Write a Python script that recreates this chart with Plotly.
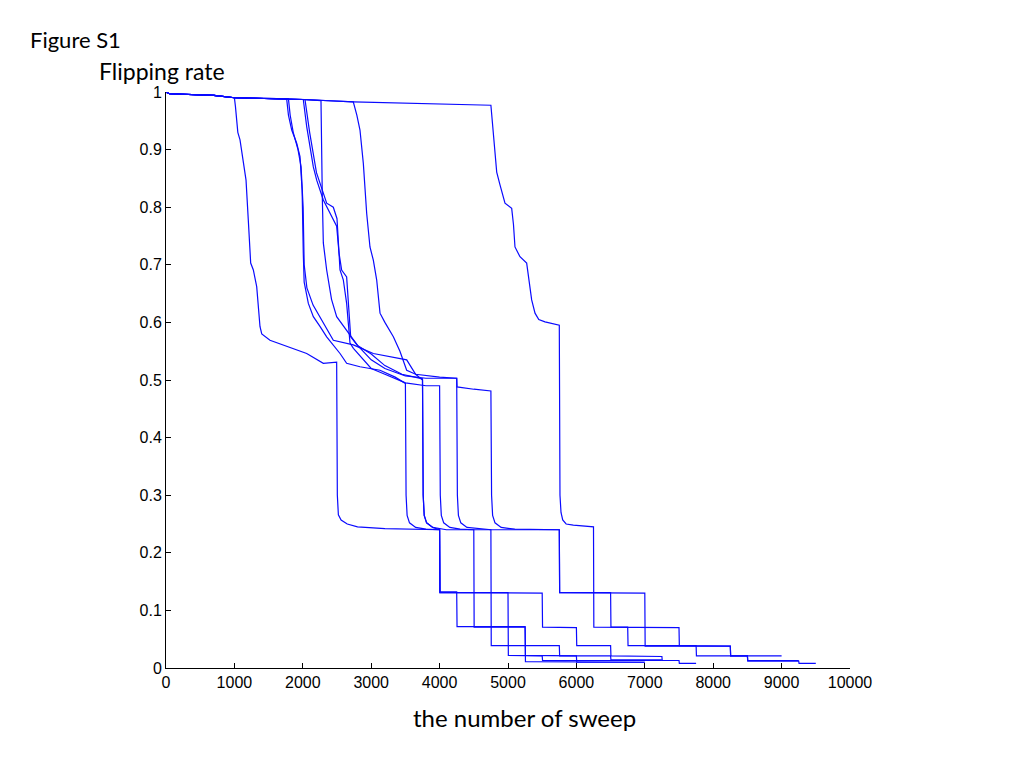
import plotly.graph_objects as go

# ---- data (x = sweep, y = flipping rate) ----
c1_x = [0, 50, 700, 1000, 1015, 1050, 1082, 1130, 1170, 1203, 1238, 1277, 1326, 1374, 1400, 1520, 1764, 2057, 2300, 2495,
        2505, 2520, 2560, 2650, 2800, 3200, 4000, 4005, 4250, 4255, 5250, 5255, 7000]
c1_y = [1.0, 0.997, 0.994, 0.99, 0.975, 0.93, 0.917, 0.88, 0.847, 0.778, 0.703, 0.691, 0.662, 0.593, 0.58, 0.569, 0.558, 0.546, 0.529, 0.531,
        0.30, 0.266, 0.257, 0.25, 0.245, 0.242, 0.24, 0.132, 0.132, 0.072, 0.072, 0.011, 0.010]

c2_x = [0, 50, 700, 1000, 1764, 1790, 1838, 1911, 1959, 1990, 2007, 2020, 2081, 2154, 2251, 2349, 2544, 2641, 2836, 3129, 3350, 3500,
        3510, 3525, 3560, 3650, 3800, 4000, 4005, 5000, 5005, 5500, 5505, 7250]
c2_y = [1.0, 0.997, 0.994, 0.99, 0.988, 0.96, 0.934, 0.911, 0.888, 0.83, 0.72, 0.67, 0.633, 0.61, 0.593, 0.575, 0.546, 0.529, 0.523, 0.517, 0.505, 0.494,
        0.30, 0.265, 0.252, 0.244, 0.241, 0.24, 0.131, 0.131, 0.022, 0.021, 0.013, 0.013]

c3_x = [0, 50, 700, 1000, 1790, 1815, 1860, 1930, 1975, 2005, 2020, 2060, 2150, 2300, 2446, 2738, 3031, 3519, 3650, 3750,
        3760, 3775, 3810, 3900, 4000, 4005, 5500, 5505, 6000, 6005, 6500, 6505, 7250, 7255, 7500, 7505, 7750]
c3_y = [1.0, 0.997, 0.994, 0.99, 0.988, 0.96, 0.93, 0.90, 0.87, 0.80, 0.70, 0.66, 0.63, 0.60, 0.569, 0.561, 0.546, 0.535, 0.51, 0.50,
        0.30, 0.265, 0.252, 0.244, 0.24, 0.131, 0.13, 0.071, 0.07, 0.039, 0.039, 0.021, 0.02, 0.013, 0.013, 0.008, 0.008]

c4_x = [0, 50, 700, 1000, 2007, 2030, 2057, 2154, 2203, 2300, 2446, 2495, 2530, 2568, 2641, 2680, 2700, 2800, 3000, 3200, 3450, 3750,
        3760, 3775, 3810, 3900, 4100, 5750, 5755, 7000, 7005, 8250, 8255, 8500, 8505, 9250, 9255, 9500]
c4_y = [1.0, 0.997, 0.994, 0.99, 0.987, 0.96, 0.94, 0.87, 0.847, 0.8125, 0.778, 0.767, 0.72, 0.691, 0.679, 0.62, 0.575, 0.56, 0.545, 0.525, 0.51, 0.502,
        0.30, 0.265, 0.252, 0.244, 0.24, 0.24, 0.131, 0.13, 0.038, 0.038, 0.021, 0.021, 0.012, 0.012, 0.008, 0.008]

c5_x = [0, 50, 700, 1000, 2032, 2060, 2100, 2200, 2349, 2446, 2500, 2544, 2592, 2641, 2690, 2740, 2850, 3000, 3200, 3500, 3800, 4000,
        4010, 4025, 4060, 4150, 4300, 4500, 4505, 5250, 5255, 6000, 6005, 7000]
c5_y = [1.0, 0.997, 0.994, 0.99, 0.987, 0.96, 0.93, 0.86, 0.807, 0.80, 0.78, 0.691, 0.674, 0.633, 0.564, 0.555, 0.54, 0.52, 0.51, 0.495, 0.49, 0.49,
        0.30, 0.265, 0.252, 0.244, 0.241, 0.24, 0.071, 0.071, 0.022, 0.021, 0.010, 0.010]

c6_x = [0, 50, 700, 1000, 2000, 2266, 2285, 2300, 2349, 2420, 2495, 2641, 2800, 3000, 3200, 3500, 3800, 4250,
        4260, 4275, 4310, 4400, 4600, 4750, 4755, 5750, 5755, 6500, 6505, 7250]
c6_y = [1.0, 0.997, 0.994, 0.99, 0.987, 0.985, 0.82, 0.738, 0.691, 0.64, 0.61, 0.587, 0.56, 0.535, 0.52, 0.507, 0.503, 0.503,
        0.30, 0.265, 0.252, 0.244, 0.241, 0.24, 0.039, 0.039, 0.021, 0.021, 0.014, 0.014]

c7_x = [0, 50, 700, 1000, 2000, 2738, 2790, 2836, 2885, 2934, 2982, 3031, 3080, 3129, 3200, 3324, 3420, 3470, 3519, 3650, 3800, 4000, 4250,
        4255, 4500, 4750, 4760, 4775, 4810, 4900, 5100, 5750, 5755, 6500, 6505, 6750, 6755, 7750, 7755, 9000]
c7_y = [1.0, 0.997, 0.994, 0.99, 0.987, 0.983, 0.96, 0.934, 0.876, 0.789, 0.731, 0.708, 0.674, 0.616, 0.60, 0.575, 0.55, 0.535, 0.517, 0.51, 0.508, 0.505, 0.503,
        0.488, 0.484, 0.481, 0.30, 0.265, 0.252, 0.244, 0.241, 0.24, 0.131, 0.131, 0.071, 0.071, 0.039, 0.039, 0.021, 0.021]

c8_x = [0, 50, 700, 1000, 2000, 2738, 4750, 4770, 4800, 4835, 4880, 4956, 5054, 5080, 5102, 5175, 5273, 5300, 5346, 5395, 5450, 5541, 5750,
        5760, 5775, 5800, 5850, 5955, 6250, 6255, 7500, 7505, 8250, 8255, 8500, 8505, 9250]
c8_y = [1.0, 0.997, 0.994, 0.99, 0.987, 0.983, 0.977, 0.95, 0.92, 0.861, 0.84, 0.807, 0.798, 0.77, 0.731, 0.714, 0.703, 0.68, 0.639, 0.616, 0.605, 0.601, 0.595,
        0.30, 0.27, 0.257, 0.25, 0.248, 0.245, 0.071, 0.07, 0.039, 0.038, 0.021, 0.021, 0.013, 0.013]

curves_x = [c1_x, c2_x, c3_x, c4_x, c5_x, c6_x, c7_x, c8_x]
curves_y = [c1_y, c2_y, c3_y, c4_y, c5_y, c6_y, c7_y, c8_y]

x_ticks = [0, 1000, 2000, 3000, 4000, 5000, 6000, 7000, 8000, 9000, 10000]
x_tick_text = ["0", "1000", "2000", "3000", "4000", "5000", "6000", "7000", "8000", "9000", "10000"]
y_ticks = [0, 0.1, 0.2, 0.3, 0.4, 0.5, 0.6, 0.7, 0.8, 0.9, 1]
y_tick_text = ["0", "0.1", "0.2", "0.3", "0.4", "0.5", "0.6", "0.7", "0.8", "0.9", "1"]

fig = go.Figure()
for xs, ys in zip(curves_x, curves_y):
    fig.add_trace(go.Scatter(x=xs, y=ys, mode="lines",
                             line=dict(color="rgb(10,10,255)", width=1.2),
                             showlegend=False, hoverinfo="skip"))

tick_font = dict(family="Liberation Sans, Arial, sans-serif", size=16, color="black")
title_font = "Lato, Carlito, sans-serif"
fig.update_layout(
    width=1024, height=768,
    margin=dict(l=158, r=182, t=84, b=108),
    paper_bgcolor="white", plot_bgcolor="white",
    xaxis=dict(range=[0, 10000], tickvals=x_ticks, ticktext=x_tick_text,
               ticks="inside", ticklen=5, tickcolor="black", showgrid=False,
               zeroline=False, showline=True, linecolor="black", linewidth=1,
               tickfont=tick_font, mirror=False, fixedrange=True),
    yaxis=dict(range=[0, 1], tickvals=y_ticks, ticktext=y_tick_text,
               ticks="inside", ticklen=5, tickcolor="black", showgrid=False,
               zeroline=False, showline=True, linecolor="black", linewidth=1,
               tickfont=tick_font, mirror=False, fixedrange=True),
    annotations=[
        dict(text="Figure S1", xref="paper", yref="paper", x=-0.2018, y=1.0903,
             xanchor="left", yanchor="middle", showarrow=False,
             font=dict(family=title_font, size=22, color="black")),
        dict(text="Flipping rate", xref="paper", yref="paper", x=-0.1009, y=1.0365,
             xanchor="left", yanchor="middle", showarrow=False,
             font=dict(family=title_font, size=23, color="black")),
        dict(text="the number of sweep", xref="paper", yref="paper", x=0.5234, y=-0.0851,
             xanchor="center", yanchor="middle", showarrow=False,
             font=dict(family=title_font, size=24, color="black")),
    ],
)

fig.write_html("out.html")
